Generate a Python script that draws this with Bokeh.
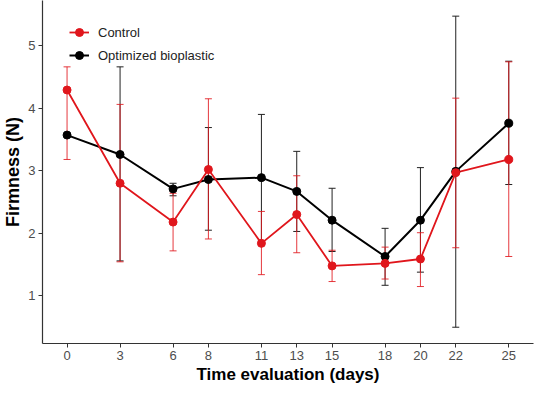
import numpy as np
from bokeh.plotting import figure
from bokeh.models import ColumnDataSource, Whisker, Legend, LegendItem, TeeHead, Range1d
from bokeh.embed import file_html
from bokeh.resources import INLINE

days = [0, 3, 6, 8, 11, 13, 15, 18, 20, 22, 25]

control_mean = [4.29, 2.80, 2.18, 3.02, 1.84, 2.30, 1.48, 1.52, 1.59, 2.97, 3.18]
control_upper = [4.66, 4.06, 2.64, 4.15, 2.35, 2.92, 1.73, 1.78, 2.01, 4.16, 4.74]
control_lower = [3.18, 1.545, 1.72, 1.91, 1.34, 1.69, 1.23, 1.27, 1.15, 1.77, 1.63]

bio_mean = [3.57, 3.26, 2.71, 2.86, 2.89, 2.67, 2.21, 1.63, 2.21, 2.99, 3.76]
bio_upper = [np.nan, 4.66, 2.80, 3.69, 3.90, 3.31, 2.72, 2.08, 3.05, 5.47, 4.75]
bio_lower = [np.nan, 1.56, 2.60, 2.05, 1.88, 2.03, 1.71, 1.17, 1.38, 0.50, 2.78]

RED = "#e0161c"
BLACK = "#000000"

p = figure(width=534, height=386, output_backend="svg", toolbar_location=None,
           x_range=Range1d(-1.39, 26.4), y_range=Range1d(0.24, 5.72),
           min_border_left=0, min_border_right=1, min_border_top=0, min_border_bottom=0)

p.background_fill_color = "white"
p.border_fill_color = "white"
p.outline_line_color = None
p.xgrid.visible = False
p.ygrid.visible = False

for ax in (p.xaxis[0], p.yaxis[0]):
    ax.axis_line_color = "#333333"
    ax.axis_line_width = 1.2
    ax.major_tick_line_color = "#333333"
    ax.major_tick_out = 4
    ax.major_tick_in = 0
    ax.minor_tick_line_color = None
    ax.major_label_text_font = "Liberation Sans"
    ax.major_label_text_font_size = "13px"
    ax.major_label_text_color = "#4d4d4d"
    ax.axis_label_text_font = "Liberation Sans"
    ax.axis_label_text_font_style = "bold"
    ax.axis_label_text_color = "#000000"
    ax.major_label_standoff = 3
    ax.axis_label_standoff = 2

p.xaxis.axis_label_text_font_size = "17px"
p.yaxis.axis_label_text_font_size = "18px"
p.xaxis.ticker = days
p.yaxis.ticker = [1, 2, 3, 4, 5]
p.xaxis.axis_label = "Time evaluation (days)"
p.yaxis.axis_label = "Firmness (N)"

src_c = ColumnDataSource(dict(x=days, y=control_mean, up=control_upper, lo=control_lower))
src_b = ColumnDataSource(dict(x=days, y=bio_mean, up=bio_upper, lo=bio_lower))

wb = Whisker(source=src_b, base="x", upper="up", lower="lo", dimension="height",
             line_color="#222222", line_width=1,
             upper_head=TeeHead(size=7, line_color="#222222", line_width=1),
             lower_head=TeeHead(size=7, line_color="#222222", line_width=1))
wc = Whisker(source=src_c, base="x", upper="up", lower="lo", dimension="height",
             line_color=RED, line_width=1, line_alpha=0.85,
             upper_head=TeeHead(size=7, line_color=RED, line_width=1, line_alpha=0.85),
             lower_head=TeeHead(size=7, line_color=RED, line_width=1, line_alpha=0.85))
p.add_layout(wb)
p.add_layout(wc)

lb = p.line("x", "y", source=src_b, line_color=BLACK, line_width=2)
lc = p.line("x", "y", source=src_c, line_color=RED, line_width=1.8)
sb = p.scatter("x", "y", source=src_b, size=8, color=BLACK)
sc = p.scatter("x", "y", source=src_c, size=8, color=RED)

legend = Legend(items=[LegendItem(label="Control", renderers=[lc, sc]),
                       LegendItem(label="Optimized bioplastic", renderers=[lb, sb])],
                location=(27, 278), orientation="vertical")
legend.background_fill_alpha = 0
legend.border_line_color = None
legend.label_text_font = "Liberation Sans"
legend.label_text_font_size = "13px"
legend.label_text_color = "#222222"
legend.glyph_width = 20
legend.glyph_height = 20
legend.label_height = 20
legend.spacing = 3
legend.padding = 0
legend.margin = 0
legend.label_standoff = 9
p.add_layout(legend)

open("out.html", "w").write(file_html(p, INLINE))
